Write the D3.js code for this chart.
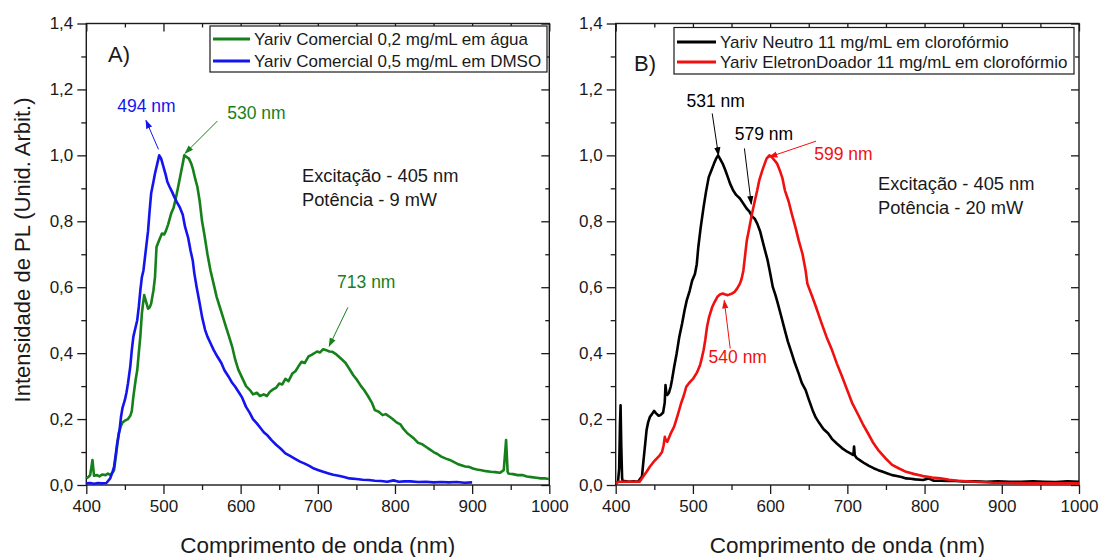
<!DOCTYPE html>
<html><head><meta charset="utf-8">
<script src="https://cdn.jsdelivr.net/npm/d3@7"></script>
<style>
body{margin:0;background:#fff;}
text{font-family:"Liberation Sans",Arial,sans-serif;fill:#1a1a1a;}
</style></head>
<body><svg id="c" width="1101" height="557"></svg>
<script>
// ---------- data ----------
const xTicks = [400,500,600,700,800,900,1000];
const yTicks = [0,0.2,0.4,0.6,0.8,1.0,1.2,1.4];

// Panel A - green: Yariv Comercial 0,2 mg/mL em água
const wlGreen = [400,403,405,407,408,410,414,417,421,425,428,431,434,436,439,442,445,447,450,454,457,459,461,464,466,468,470,472,473,475,477,480,482,484,487,489,491,494,498,501,503,506,510,513,516,519,522,525,527,530,533,536,538,541,544,547,550,553,557,561,565,569,573,577,581,585,589,593,597,602,607,612,616,621,625,630,634,638,642,646,650,654,658,662,667,671,675,679,683,688,692,695,699,703,707,711,715,719,723,727,732,736,741,746,751,756,760,765,770,774,779,784,788,793,797,802,807,811,816,821,825,830,835,840,845,850,855,860,866,871,876,881,886,891,896,901,906,912,918,924,930,936,941,944,946,947,949,953,959,965,971,977,983,989,995,1000];
const intGreen = [0.02,0.025,0.03,0.06,0.076,0.028,0.03,0.026,0.032,0.03,0.035,0.03,0.038,0.045,0.1,0.157,0.18,0.19,0.195,0.2,0.21,0.225,0.268,0.32,0.348,0.4,0.45,0.52,0.54,0.576,0.56,0.535,0.538,0.55,0.59,0.63,0.722,0.74,0.763,0.76,0.77,0.79,0.824,0.84,0.87,0.904,0.94,0.975,1.0,0.995,0.99,0.975,0.96,0.93,0.904,0.86,0.8,0.76,0.7,0.65,0.61,0.57,0.54,0.51,0.48,0.45,0.42,0.38,0.35,0.325,0.3,0.288,0.275,0.28,0.27,0.275,0.27,0.283,0.29,0.295,0.308,0.305,0.322,0.315,0.338,0.345,0.36,0.374,0.37,0.39,0.395,0.399,0.405,0.402,0.412,0.409,0.405,0.404,0.398,0.39,0.379,0.37,0.352,0.333,0.318,0.3,0.288,0.27,0.25,0.227,0.222,0.212,0.215,0.207,0.2,0.19,0.184,0.17,0.157,0.148,0.14,0.128,0.124,0.116,0.108,0.1,0.094,0.086,0.08,0.076,0.07,0.064,0.06,0.056,0.055,0.05,0.047,0.045,0.042,0.04,0.039,0.037,0.045,0.136,0.04,0.035,0.034,0.033,0.03,0.03,0.026,0.024,0.022,0.02,0.02,0.018];

// Panel A - blue: Yariv Comercial 0,5 mg/mL em DMSO
const wlBlue = [400,405,410,415,420,426,431,434,436,438,440,443,445,447,450,452,454,457,459,461,463,466,468,470,472,474,477,480,482,484,487,489,492,494.5,497,500,503,505,508,511,514,517,521,525,528,532,535,538,540,543,547,550,554,557,561,565,570,575,579,584,589,593,598,602,607,612,616,621,626,630,635,640,646,652,658,664,670,677,683,689,695,701,707,714,720,727,734,741,750,758,766,774,782,790,798,805,812,820,830,840,850,860,870,880,890,900];
const intBlue = [0.005,0.006,0.004,0.006,0.005,0.006,0.02,0.04,0.056,0.09,0.126,0.165,0.207,0.235,0.258,0.28,0.308,0.36,0.41,0.45,0.47,0.5,0.54,0.59,0.63,0.65,0.71,0.77,0.83,0.884,0.92,0.945,0.975,1.0,0.99,0.965,0.94,0.92,0.904,0.89,0.874,0.86,0.843,0.82,0.783,0.75,0.712,0.68,0.642,0.6,0.55,0.51,0.47,0.45,0.43,0.41,0.389,0.37,0.348,0.33,0.31,0.298,0.28,0.265,0.237,0.218,0.2,0.187,0.172,0.16,0.15,0.136,0.122,0.11,0.096,0.088,0.08,0.071,0.065,0.058,0.05,0.045,0.04,0.035,0.031,0.028,0.024,0.02,0.018,0.016,0.015,0.013,0.012,0.01,0.014,0.01,0.011,0.011,0.009,0.01,0.008,0.009,0.008,0.009,0.007,0.008];

// Panel B - black: Yariv Neutro 11 mg/mL em clorofórmio
const wlBlack = [400,403,404.5,405.5,406.3,407.2,408.3,409.4,412,417,423,429,432,434,435.4,438,440,442,444.4,447,449.7,452,455.6,458,461.4,463.5,464.5,465.5,466.8,469,471.2,473,475.7,479,482.4,486,489.2,492,495.9,499,502.6,505,507,510,513.8,517,520.5,524,527.3,530,532.6,535,538.5,542,545.2,548,552,556,560.9,565,569.8,573,576.5,580,583.3,587,590,593,596.7,599,601,603.4,607,610,614,619,623,628,632,637,641,646,650,655,659,663.9,669,675,680,686.3,693,699.8,704,707.8,708.7,709.6,712,717,722,728,734,740,746,752,758,764,770,776,782,788,794,798,805,812,820.7,830,840,850,865.6,880,895,910,925,940,955,970,985,1000];
const intBlack = [0.005,0.01,0.05,0.18,0.242,0.12,0.02,0.01,0.012,0.01,0.011,0.01,0.02,0.025,0.06,0.12,0.167,0.19,0.207,0.215,0.225,0.218,0.21,0.212,0.22,0.25,0.303,0.28,0.273,0.28,0.298,0.32,0.358,0.4,0.45,0.49,0.53,0.56,0.59,0.62,0.64,0.67,0.722,0.78,0.843,0.89,0.934,0.955,0.975,0.99,1.0,0.99,0.975,0.955,0.934,0.915,0.894,0.88,0.869,0.855,0.838,0.83,0.815,0.808,0.793,0.77,0.742,0.715,0.682,0.655,0.631,0.601,0.575,0.55,0.515,0.47,0.435,0.399,0.37,0.338,0.31,0.288,0.26,0.227,0.205,0.187,0.17,0.157,0.14,0.126,0.112,0.101,0.096,0.091,0.117,0.09,0.082,0.074,0.066,0.058,0.051,0.045,0.04,0.035,0.03,0.027,0.024,0.02,0.019,0.017,0.016,0.015,0.02,0.013,0.013,0.012,0.012,0.011,0.011,0.01,0.011,0.01,0.01,0.011,0.01,0.009,0.011,0.01,0.01,0.01,0.01];

// Panel B - red: Yariv EletronDoador 11 mg/mL em clorofórmio
const wlRed = [400,404,410,420,431,435.4,440,444.4,449,453.3,457,460,462,463.6,465,466.8,471,475.7,480,484.7,488,491.4,496,500.4,505,509.3,511.5,513.8,516,518.3,521,525,528,531.7,535,538.5,542,545.2,550,554,557,560.9,563,565.3,569.8,573,576.5,580,583.3,586,590,593,595.4,599,602,605.7,609,612.4,616,619.1,624,628,633,637,642,646,648.2,654,659.4,666,672.9,680,686.3,693,699.8,706,713.2,720,726.7,733,740,749,758,767,776,787,798,810,820.7,832,843,865,888,910,940,970,1000];
const intRed = [0.005,0.01,0.01,0.01,0.01,0.025,0.04,0.056,0.07,0.081,0.09,0.1,0.12,0.146,0.135,0.131,0.155,0.177,0.21,0.248,0.27,0.298,0.312,0.323,0.34,0.364,0.385,0.409,0.44,0.48,0.51,0.54,0.555,0.571,0.578,0.581,0.578,0.576,0.58,0.586,0.595,0.611,0.625,0.65,0.742,0.78,0.823,0.86,0.894,0.925,0.955,0.975,0.99,1.0,0.995,0.985,0.975,0.955,0.93,0.894,0.86,0.823,0.78,0.742,0.7,0.65,0.611,0.575,0.54,0.495,0.45,0.41,0.369,0.33,0.288,0.25,0.217,0.185,0.157,0.13,0.106,0.082,0.061,0.05,0.04,0.033,0.027,0.023,0.02,0.016,0.013,0.01,0.007,0.006,0.005,0.005,0.005];

const legendA = ["Yariv Comercial 0,2 mg/mL em água","Yariv Comercial 0,5 mg/mL em DMSO"];
const legendB = ["Yariv Neutro 11 mg/mL em clorofórmio","Yariv EletronDoador 11 mg/mL em clorofórmio"];

// ---------- drawing ----------
const svg = d3.select("#c");
const C = {green:"#16801a", blue:"#1414f0", black:"#000", red:"#f01010"};
const yTop = 23.5, yBot = 485;
const y = d3.scaleLinear().domain([0,1.4]).range([yBot,yTop]);
const fmt = d => d3.format(".1f")(d).replace(".",",");

function panel(x0, x1){
  const x = d3.scaleLinear().domain([400,1000]).range([x0,x1]);
  const g = svg.append("g");
  g.append("g").attr("transform",`translate(0,${yBot})`)
    .call(d3.axisBottom(x).tickValues(xTicks).tickSize(9).tickPadding(6).tickFormat(d3.format("d")));
  g.append("g").attr("transform",`translate(0,${yBot})`)
    .call(d3.axisBottom(x).tickValues(d3.range(450,1000,100)).tickSize(5).tickFormat(""));
  g.append("g").attr("transform",`translate(0,${yTop})`)
    .call(d3.axisBottom(x).tickValues(xTicks).tickSize(8).tickFormat(""));
  g.append("g").attr("transform",`translate(0,${yTop})`)
    .call(d3.axisBottom(x).tickValues(d3.range(450,1000,100)).tickSize(4).tickFormat(""));
  g.append("g").attr("transform",`translate(${x0},0)`)
    .call(d3.axisLeft(y).tickValues(yTicks).tickSize(9).tickPadding(4).tickFormat(fmt));
  g.append("g").attr("transform",`translate(${x0},0)`)
    .call(d3.axisLeft(y).tickValues(d3.range(0.1,1.4,0.2)).tickSize(5).tickFormat(""));
  g.append("g").attr("transform",`translate(${x1},0)`)
    .call(d3.axisLeft(y).tickValues(yTicks).tickSize(8).tickFormat(""));
  g.append("g").attr("transform",`translate(${x1},0)`)
    .call(d3.axisLeft(y).tickValues(d3.range(0.1,1.4,0.2)).tickSize(4).tickFormat(""));
  g.selectAll(".domain").remove();
  g.selectAll(".tick line").attr("stroke","#1a1a1a").attr("stroke-width",1.3);
  g.selectAll(".tick text").style("font-size","17px").attr("fill","#1a1a1a");
  g.append("rect").attr("x",x0).attr("y",yTop).attr("width",x1-x0).attr("height",yBot-yTop)
    .attr("fill","none").attr("stroke","#1a1a1a").attr("stroke-width",1.4);
  g.append("text").attr("x",(x0+x1)/2).attr("y",553).attr("text-anchor","middle")
    .style("font-size","22.5px").text("Comprimento de onda (nm)");
  return x;
}

function curve(x, wl, iv, col){
  const pts = wl.map((w,i)=>[w,iv[i]]);
  svg.append("path").datum(pts)
    .attr("d", d3.line().x(d=>x(d[0])).y(d=>y(d[1])))
    .attr("fill","none").attr("stroke",col).attr("stroke-width",2.6).attr("stroke-linejoin","round");
}

const defs = svg.append("defs");
function marker(id,col){
  defs.append("marker").attr("id",id).attr("viewBox","0 0 10 10").attr("refX",9).attr("refY",5)
    .attr("markerWidth",9).attr("markerHeight",9).attr("markerUnits","userSpaceOnUse").attr("orient","auto")
    .append("path").attr("d","M0,1.5 L10,5 L0,8.5 Z").attr("fill",col);
}
marker("mg",C.green); marker("mb",C.blue); marker("mk",C.black); marker("mr",C.red);

function arrow(x, w1,v1,w2,v2,col,mid){
  svg.append("line").attr("x1",x(w1)).attr("y1",y(v1)).attr("x2",x(w2)).attr("y2",y(v2))
    .attr("stroke",col).attr("stroke-width",1).attr("marker-end",`url(#${mid})`);
}
function label(x, w, v, txt, col, anchor){
  svg.append("text").attr("x",x(w)).attr("y",y(v)).style("fill",col)
    .attr("text-anchor",anchor||"start").style("font-size","17.5px").text(txt);
}

const xA = panel(86.3, 549.3);
const xB = panel(615.7, 1079);

svg.append("text").attr("transform","translate(30,250) rotate(-90)").attr("text-anchor","middle")
  .style("font-size","22px").text("Intensidade de PL (Unid. Arbit.)");

curve(xA, wlGreen, intGreen, C.green);
curve(xA, wlBlue, intBlue, C.blue);
curve(xB, wlBlack, intBlack, C.black);
curve(xB, wlRed, intRed, C.red);

function legend(bx0,by0,bx1,by1,lx0,lx1,rows,names,cols){
  svg.append("rect").attr("x",bx0).attr("y",by0).attr("width",bx1-bx0).attr("height",by1-by0)
    .attr("fill","#fff").attr("stroke","#1a1a1a").attr("stroke-width",1.2);
  names.forEach((n,i)=>{
    svg.append("line").attr("x1",lx0).attr("x2",lx1).attr("y1",rows[i]).attr("y2",rows[i])
      .attr("stroke",cols[i]).attr("stroke-width",3);
    svg.append("text").attr("x",lx1+4).attr("y",rows[i]+6).style("font-size","17px").text(n);
  });
}
legend(210,26,547,72,213,250,[39,61],legendA,[C.green,C.blue]);
legend(674,27.5,1074,74,677,716,[42,62],legendB,[C.black,C.red]);

svg.append("text").attr("x",108).attr("y",62).style("font-size","22px").text("A)");
svg.append("text").attr("x",634).attr("y",71).style("font-size","22px").text("B)");

[[302,182,"Excitação - 405 nm"],[302,206,"Potência - 9 mW"],[878,190,"Excitação - 405 nm"],[878,214,"Potência - 20 mW"]]
  .forEach(d=>svg.append("text").attr("x",d[0]).attr("y",d[1]).style("font-size","18.3px").text(d[2]));

// annotations panel A
arrow(xA, 493.6, 1.018, 477.3, 1.106, C.blue, "mb");
label(xA, 478, 1.133, "494 nm", C.blue, "middle");
arrow(xA, 569.8, 1.104, 528, 1.006, C.green, "mg");
label(xA, 582.6, 1.109, "530 nm", C.green, "start");
arrow(xA, 739, 0.539, 714.7, 0.421, C.green, "mg");
label(xA, 725, 0.597, "713 nm", C.green, "start");

// annotations panel B
arrow(xB, 525, 1.127, 533.1, 1.0, C.black, "mk");
label(xB, 529.5, 1.148, "531 nm", C.black, "middle");
arrow(xB, 566.7, 1.021, 575.6, 0.852, C.black, "mk");
label(xB, 592, 1.048, "579 nm", C.black, "middle");
arrow(xB, 659.4, 1.043, 598.9, 0.995, C.red, "mr");
label(xB, 657.2, 0.985, "599 nm", C.red, "start");
arrow(xB, 548.3, 0.414, 540.6, 0.56, C.red, "mr");
label(xB, 520.3, 0.37, "540 nm", C.red, "start");
</script></body></html>
